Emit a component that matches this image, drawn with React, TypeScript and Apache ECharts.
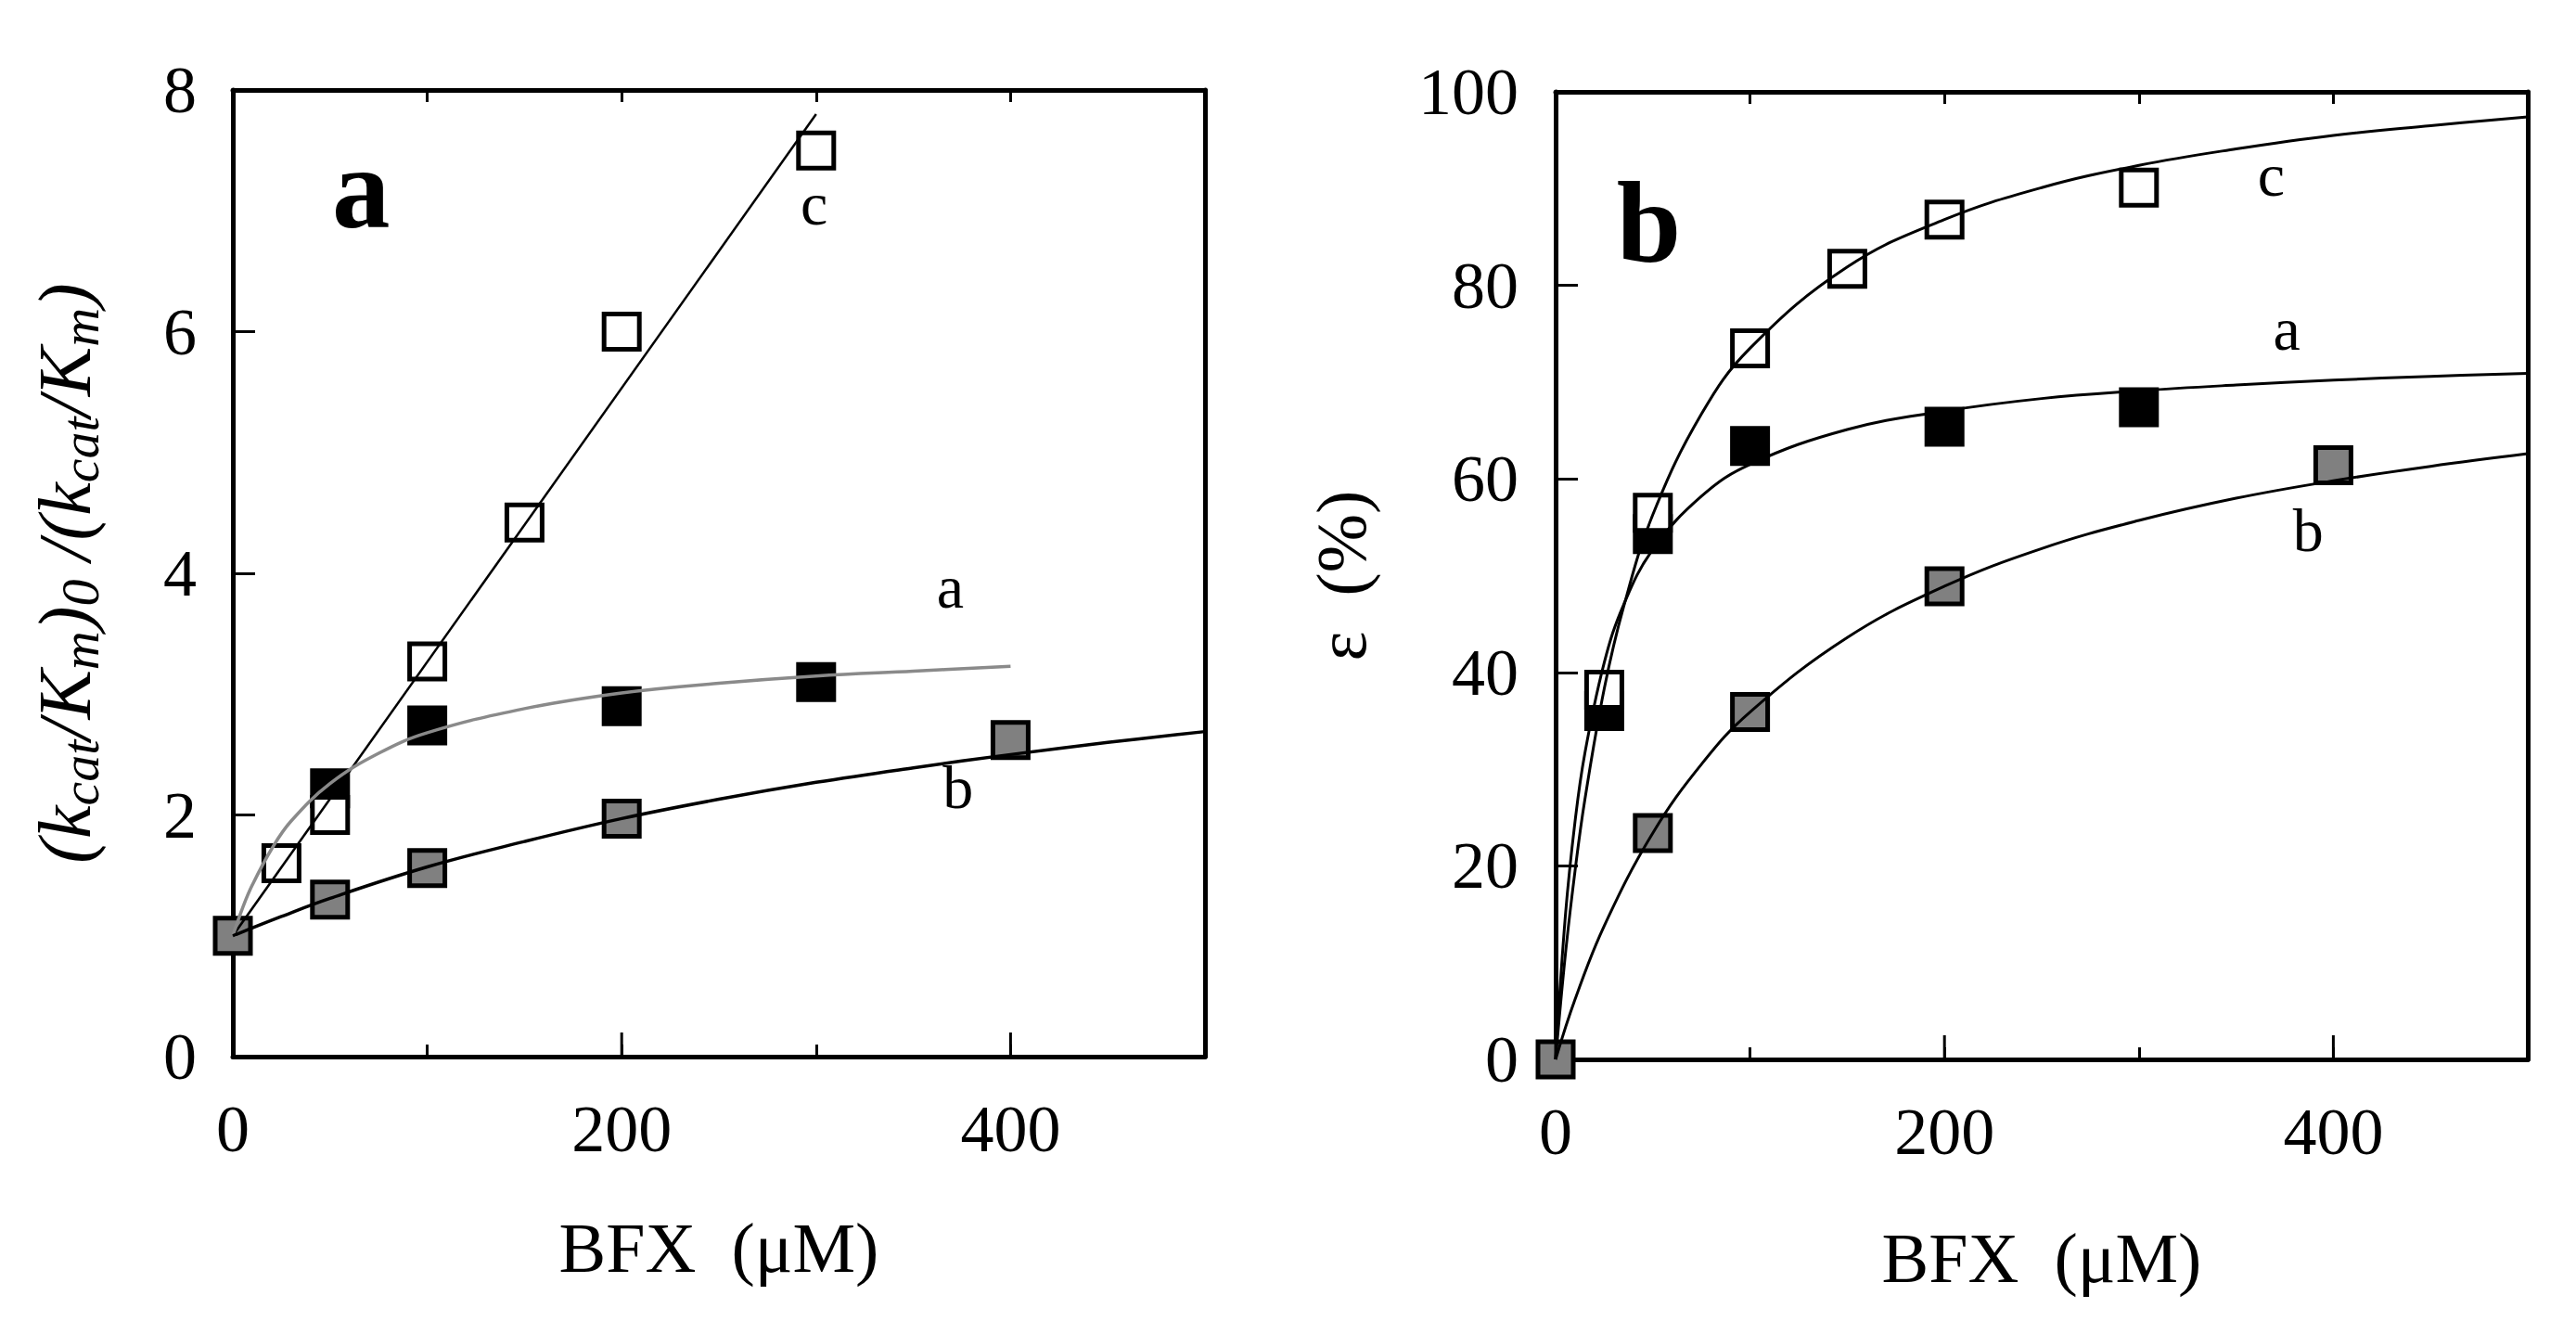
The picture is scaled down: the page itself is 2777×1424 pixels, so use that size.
import React, { useEffect, useRef } from "react";
import * as echarts from "echarts";

const FONT = "'Liberation Serif', 'Times New Roman', serif";

// ---------- Panel a data ----------
const aOpenX = [25, 50, 100, 150, 200, 300];
const aOpenY = [1.6, 2.0, 3.27, 4.42, 6.0, 7.5];
const aBlackX = [50, 100, 200, 300];
const aBlackY = [2.22, 2.74, 2.9, 3.1];
const aGrayX = [0, 50, 100, 200, 400];
const aGrayY = [1.0, 1.3, 1.56, 1.97, 2.62];
const aLineCX = [0, 300];
const aLineCY = [1.0, 7.8];
const aCurveAX = [0, 5, 10, 20, 30, 50, 75, 100, 150, 200, 250, 300, 350, 400];
const aCurveAY = [1.0, 1.23, 1.42, 1.72, 1.95, 2.26, 2.51, 2.68, 2.88, 3.01, 3.09, 3.15, 3.19, 3.23];
const aCurveBX = [0, 25, 50, 100, 150, 200, 250, 300, 350, 400, 450, 500];
const aCurveBY = [1.0, 1.16, 1.31, 1.57, 1.78, 1.97, 2.13, 2.27, 2.39, 2.5, 2.6, 2.69];
const aCurveLabels = ["c", "a", "b"];
const aCurveLabelX = [299, 369, 373];
const aCurveLabelY = [7.06, 3.89, 2.23];
const aPanelLabel = "a";
const aPanelLabelPos = [66, 7.19];

// ---------- Panel b data ----------
const bOpenX = [25, 50, 100, 150, 200, 300];
const bOpenY = [38.2, 56.5, 73.5, 81.7, 86.8, 90.1];
const bBlackX = [25, 50, 100, 200, 300];
const bBlackY = [36.0, 54.3, 63.4, 65.4, 67.4];
const bGrayX = [0, 50, 100, 200, 400];
const bGrayY = [0, 23.4, 35.9, 48.9, 61.4];
const bCurveCX = [0, 5, 10, 15, 25, 35, 50, 75, 100, 150, 200, 250, 300, 350, 400, 450, 500];
const bCurveCY = [0, 10.8, 19.5, 26.8, 38.3, 46.8, 56.3, 66.7, 73.5, 81.9, 86.8, 90.1, 92.4, 94.1, 95.5, 96.5, 97.4];
const bCurveAX = [0, 5, 10, 15, 25, 35, 50, 75, 100, 150, 200, 250, 300, 350, 400, 450, 500];
const bCurveAY = [0, 14.8, 24.6, 31.6, 41.0, 47.0, 52.7, 58.2, 61.5, 65.1, 67.0, 68.3, 69.1, 69.7, 70.2, 70.6, 70.9];
const bCurveBX = [0, 10, 25, 50, 75, 100, 150, 200, 250, 300, 350, 400, 450, 500];
const bCurveBY = [0, 6.2, 13.8, 23.4, 30.5, 35.9, 43.6, 48.9, 52.8, 55.7, 58.0, 59.8, 61.3, 62.6];
const bCurveLabels = ["c", "a", "b"];
const bCurveLabelX = [368, 376, 387];
const bCurveLabelY = [91.4, 75.5, 54.7];
const bPanelLabel = "b";
const bPanelLabelPos = [48, 86.5];

// ---------- Axes ----------
const xLabelValues = [0, 200, 400];
const xMajorTicks = [0, 200, 400];
const xTitle = "BFX  (\u03bcM)";
const aYTitle = "{i|(k}{s|cat}{i|/K}{s|m}{i|)}{s|0}{i| /(k}{s|cat}{i|/K}{s|m}{i|)}";
const bYTitle = "\u03b5  (%)";

function pairs(xs: number[], ys: number[]) {
  return xs.map((x, i) => [x, ys[i]]);
}

const LINE = { color: "#000", width: 5 };

function bottomAxis(gridIndex: number, nameGap: number) {
  return {
    type: "value",
    gridIndex,
    position: "bottom",
    min: 0,
    max: 500,
    interval: 100,
    axisLine: { show: true, onZero: false, lineStyle: LINE },
    axisTick: { show: true, inside: true, length: 13, lineStyle: { color: "#000", width: 3 } },
    axisLabel: {
      show: true,
      margin: 42,
      fontSize: 72,
      fontFamily: FONT,
      color: "#000",
      formatter: (v: number) => (xLabelValues.indexOf(v) >= 0 ? String(v) : ""),
    },
    splitLine: { show: false },
    name: xTitle,
    nameLocation: "middle",
    nameGap,
    nameTextStyle: { fontSize: 76, fontFamily: FONT, color: "#000" },
  };
}

function topAxis(gridIndex: number) {
  return {
    type: "value",
    gridIndex,
    position: "top",
    min: 0,
    max: 500,
    interval: 100,
    axisLine: { show: true, onZero: false, lineStyle: LINE },
    axisTick: { show: true, inside: true, length: 13, lineStyle: { color: "#000", width: 3 } },
    axisLabel: { show: false },
    splitLine: { show: false },
  };
}

function rightAxis(gridIndex: number, max: number) {
  return {
    type: "value",
    gridIndex,
    position: "right",
    min: 0,
    max,
    axisLine: { show: true, onZero: false, lineStyle: LINE },
    axisTick: { show: false },
    axisLabel: { show: false },
    splitLine: { show: false },
  };
}

function squares(name: string, data: number[][], fill: string, xi: number, yi: number) {
  return {
    name,
    type: "scatter",
    xAxisIndex: xi,
    yAxisIndex: yi,
    data,
    symbol: "rect",
    symbolSize: 38,
    clip: false,
    z: 2,
    itemStyle: { color: fill, borderColor: "#000", borderWidth: 5, opacity: 1 },
  };
}

function curve(name: string, data: number[][], color: string, width: number, xi: number, yi: number, smooth: any = 0.4) {
  return {
    name,
    type: "line",
    xAxisIndex: xi,
    yAxisIndex: yi,
    data,
    showSymbol: false,
    symbol: "none",
    smooth,
    z: 3,
    lineStyle: { color, width },
  };
}

function textMarks(labels: string[], xs: number[], ys: number[], size: number, bold: boolean, xi: number, yi: number) {
  return {
    type: "scatter",
    xAxisIndex: xi,
    yAxisIndex: yi,
    symbol: "circle",
    symbolSize: 1,
    clip: false,
    silent: true,
    z: 4,
    itemStyle: { color: "#ffffff", opacity: 1 },
    data: labels.map((l, i) => ({ name: l, value: [xs[i], ys[i]] })),
    label: {
      show: true,
      position: "inside",
      formatter: "{b}",
      fontSize: size,
      fontWeight: bold ? "bold" : "normal",
      fontFamily: FONT,
      color: "#000000",
      opacity: 1,
      textBorderWidth: 0,
    },
  };
}

function majorTicks(xi: number, yi: number) {
  return {
    type: "custom",
    xAxisIndex: xi,
    yAxisIndex: yi,
    silent: true,
    clip: false,
    z: 5,
    data: xMajorTicks.map((v) => [v, 0]),
    renderItem: (_p: any, api: any) => {
      const pt = api.coord([api.value(0), api.value(1)]);
      return {
        type: "line",
        shape: { x1: pt[0], y1: pt[1], x2: pt[0], y2: pt[1] - 26 },
        style: { stroke: "#000", lineWidth: 3 },
      };
    },
  };
}

export default function App() {
  const ref = useRef<HTMLDivElement>(null);
  useEffect(() => {
    if (!ref.current) return;
    const chart = echarts.init(ref.current, undefined, { renderer: "svg" });
    const option: any = {
      animation: false,
      backgroundColor: "#ffffff",
      grid: [
        { left: 251, top: 97, width: 1048, height: 1042, outerBoundsMode: "none" },
        { left: 1677, top: 99, width: 1048, height: 1043, outerBoundsMode: "none" },
      ],
      xAxis: [bottomAxis(0, 168), topAxis(0), bottomAxis(1, 176), topAxis(1)],
      yAxis: [
        {
          type: "value",
          gridIndex: 0,
          position: "left",
          min: 0,
          max: 8,
          interval: 2,
          axisLine: { show: true, onZero: false, lineStyle: LINE },
          axisTick: { show: true, inside: true, length: 24, lineStyle: { color: "#000", width: 3 } },
          axisLabel: { show: true, margin: 39, fontSize: 72, fontFamily: FONT, color: "#000" },
          splitLine: { show: false },
          name: aYTitle,
          nameLocation: "middle",
          nameRotate: 90,
          nameGap: 141,
          nameTextStyle: {
            rich: {
              i: { fontFamily: FONT, fontStyle: "italic", fontSize: 80, lineHeight: 80, color: "#000" },
              s: {
                fontFamily: FONT,
                fontStyle: "italic",
                fontSize: 58,
                lineHeight: 58,
                padding: [32, 0, 0, 0],
                color: "#000",
              },
            },
          },
        },
        rightAxis(0, 8),
        {
          type: "value",
          gridIndex: 1,
          position: "left",
          min: 0,
          max: 100,
          interval: 20,
          axisLine: { show: true, onZero: false, lineStyle: LINE },
          axisTick: { show: true, inside: true, length: 24, lineStyle: { color: "#000", width: 3 } },
          axisLabel: { show: true, margin: 40, fontSize: 72, fontFamily: FONT, color: "#000" },
          splitLine: { show: false },
          name: bYTitle,
          nameLocation: "middle",
          nameRotate: 90,
          nameGap: 193,
          nameTextStyle: { fontFamily: FONT, fontSize: 76, color: "#000" },
        },
        rightAxis(1, 100),
      ],
      series: [
        // panel a
        squares("a-gray", pairs(aGrayX, aGrayY), "#808080", 0, 0),
        squares("a-black", pairs(aBlackX, aBlackY), "#000000", 0, 0),
        squares("a-open", pairs(aOpenX, aOpenY), "#ffffff", 0, 0),
        curve("a-line-c", pairs(aLineCX, aLineCY), "#000", 2.5, 0, 0, false),
        curve("a-curve-a", pairs(aCurveAX, aCurveAY), "#8a8a8a", 3.5, 0, 0),
        curve("a-curve-b", pairs(aCurveBX, aCurveBY), "#000", 3.5, 0, 0),
        textMarks(aCurveLabels, aCurveLabelX, aCurveLabelY, 66, false, 0, 0),
        textMarks([aPanelLabel], [aPanelLabelPos[0]], [aPanelLabelPos[1]], 125, true, 0, 0),
        majorTicks(0, 0),
        // panel b
        squares("b-gray", pairs(bGrayX, bGrayY), "#808080", 2, 2),
        squares("b-black", pairs(bBlackX, bBlackY), "#000000", 2, 2),
        squares("b-open", pairs(bOpenX, bOpenY), "#ffffff", 2, 2),
        curve("b-curve-c", pairs(bCurveCX, bCurveCY), "#000", 3, 2, 2),
        curve("b-curve-a", pairs(bCurveAX, bCurveAY), "#000", 3, 2, 2),
        curve("b-curve-b", pairs(bCurveBX, bCurveBY), "#000", 3, 2, 2),
        textMarks(bCurveLabels, bCurveLabelX, bCurveLabelY, 66, false, 2, 2),
        textMarks([bPanelLabel], [bPanelLabelPos[0]], [bPanelLabelPos[1]], 125, true, 2, 2),
        majorTicks(2, 2),
      ],
    };
    chart.setOption(option);
    return () => chart.dispose();
  }, []);
  return (
    <div
      ref={ref}
      style={{ position: "absolute", left: 0, top: 0, width: 2777, height: 1424, background: "#fff" }}
    />
  );
}
